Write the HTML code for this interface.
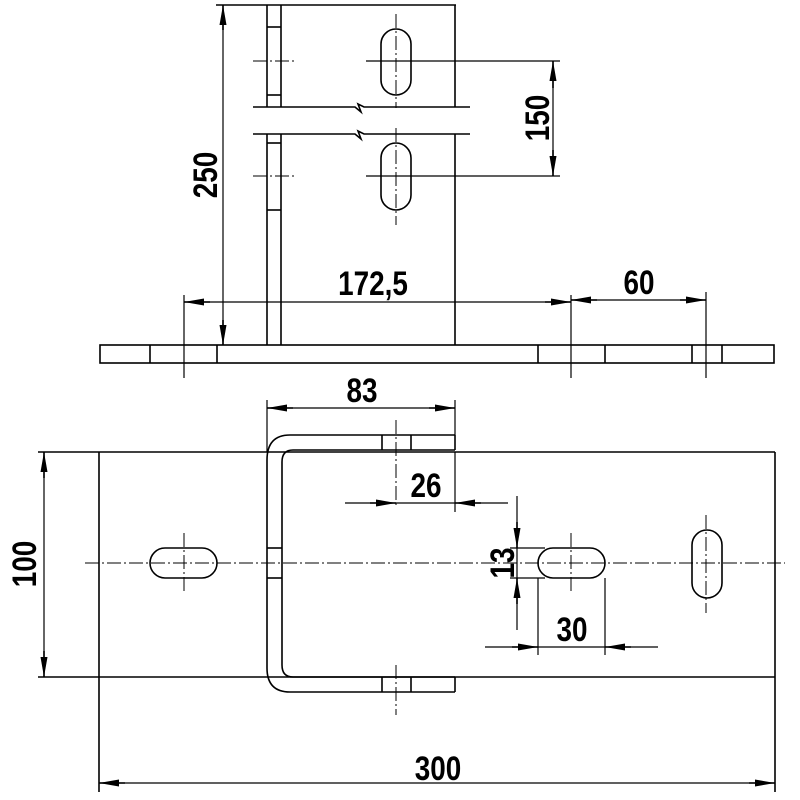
<!DOCTYPE html>
<html><head><meta charset="utf-8"><style>
html,body{margin:0;padding:0;background:#fff;}
svg{display:block}
text{font-family:"Liberation Sans","DejaVu Sans",sans-serif;font-weight:bold;font-size:34px;fill:#000}
</style></head><body>
<svg width="800" height="800" viewBox="0 0 800 800" xmlns="http://www.w3.org/2000/svg">
<defs>
<marker id="a" viewBox="0 0 20 8" refX="20" refY="4" markerWidth="20" markerHeight="8" markerUnits="userSpaceOnUse" orient="auto"><path d="M0,0.5 L20,4 L0,7.5 Z" fill="#000"/></marker>
</defs>
<g stroke="#000" stroke-width="1.6" fill="none">
<line x1="216" y1="5" x2="456" y2="5"/>
<line x1="267" y1="5" x2="267" y2="107"/><line x1="281" y1="5" x2="281" y2="107"/>
<line x1="267" y1="134" x2="267" y2="345"/><line x1="281" y1="134" x2="281" y2="345"/>
<line x1="455" y1="5" x2="455" y2="107"/><line x1="455" y1="134" x2="455" y2="345"/>
<line x1="267" y1="27" x2="281" y2="27"/><line x1="267" y1="95" x2="281" y2="95"/>
<line x1="267" y1="143" x2="281" y2="143"/><line x1="267" y1="210" x2="281" y2="210"/>
<path d="M253,107 L355,107 L361,112 L358,104 L364,107 L470,107"/>
<path d="M253,134 L355,134 L361,139 L358,131 L364,134 L470,134"/>
<rect x="381" y="29" width="30" height="66" rx="15"/>
<rect x="381" y="143" width="30" height="67" rx="15"/>
<line x1="366" y1="61" x2="560" y2="61" stroke-width="1.2"/>
<line x1="366" y1="176" x2="560" y2="176" stroke-width="1.2"/>
<line x1="553" y1="88" x2="553" y2="61" marker-end="url(#a)"/>
<line x1="553" y1="150" x2="553" y2="176" marker-end="url(#a)"/>
<line x1="553" y1="61" x2="553" y2="176" stroke-width="1.2"/>
<line x1="223" y1="5" x2="223" y2="345" stroke-width="1.2"/>
<line x1="223" y1="30" x2="223" y2="5" marker-end="url(#a)"/>
<line x1="223" y1="320" x2="223" y2="345" marker-end="url(#a)"/>
<rect x="100" y="345" width="674" height="18"/>
<line x1="150" y1="345" x2="150" y2="363"/><line x1="217" y1="345" x2="217" y2="363"/>
<line x1="538" y1="345" x2="538" y2="363"/><line x1="605" y1="345" x2="605" y2="363"/>
<line x1="692" y1="345" x2="692" y2="363"/><line x1="722" y1="345" x2="722" y2="363"/>
<line x1="184" y1="295" x2="184" y2="378" stroke-width="1.2"/>
<line x1="571" y1="295" x2="571" y2="378" stroke-width="1.2"/>
<line x1="706" y1="292" x2="706" y2="378" stroke-width="1.2"/>
<line x1="184" y1="302" x2="571" y2="302" stroke-width="1.2"/>
<line x1="210" y1="302" x2="184" y2="302" marker-end="url(#a)"/>
<line x1="545" y1="302" x2="571" y2="302" marker-end="url(#a)"/>
<line x1="571" y1="300" x2="706" y2="300" stroke-width="1.2"/>
<line x1="597" y1="300" x2="571" y2="300" marker-end="url(#a)"/>
<line x1="680" y1="300" x2="706" y2="300" marker-end="url(#a)"/>
</g>
<g stroke="#000" stroke-width="1" stroke-dasharray="14,3,2,3" fill="none">
<line x1="253" y1="61" x2="297" y2="61"/><line x1="253" y1="176" x2="297" y2="176"/>
<line x1="396" y1="14" x2="396" y2="108"/><line x1="396" y1="128" x2="396" y2="225"/>
<line x1="85" y1="563" x2="785" y2="563"/>
<line x1="184" y1="533" x2="184" y2="593"/>
<line x1="571" y1="533" x2="571" y2="593"/>
<line x1="706" y1="515" x2="706" y2="613"/>
<line x1="396" y1="420" x2="396" y2="505"/>
<line x1="396" y1="665" x2="396" y2="715"/>
</g>
<g stroke="#000" stroke-width="1.6" fill="none">
<line x1="38" y1="452" x2="775" y2="452"/>
<line x1="38" y1="677" x2="775" y2="677"/>
<line x1="99" y1="452" x2="99" y2="792"/>
<line x1="775" y1="452" x2="775" y2="792"/>
<path d="M455,435 L290,435 Q267,435 267,460 L267,668 Q267,692 290,692 L455,692"/>
<path d="M455,450 L293,450 Q282,450 282,462 L282,665 Q282,677 293,677 L455,677"/>
<line x1="455" y1="435" x2="455" y2="450"/><line x1="455" y1="677" x2="455" y2="692"/>
<line x1="382" y1="435" x2="382" y2="450"/><line x1="411" y1="435" x2="411" y2="450"/>
<line x1="382" y1="677" x2="382" y2="692"/><line x1="411" y1="677" x2="411" y2="692"/>
<line x1="267" y1="548" x2="282" y2="548"/><line x1="267" y1="578" x2="282" y2="578"/>
<rect x="150" y="548" width="67" height="30" rx="15"/>
<rect x="538" y="548" width="67" height="30" rx="15"/>
<rect x="692" y="530" width="30" height="68" rx="15"/>
<line x1="267" y1="400" x2="267" y2="452" stroke-width="1.2"/>
<line x1="455" y1="400" x2="455" y2="435" stroke-width="1.2"/>
<line x1="267" y1="408" x2="455" y2="408" stroke-width="1.2"/>
<line x1="293" y1="408" x2="267" y2="408" marker-end="url(#a)"/>
<line x1="429" y1="408" x2="455" y2="408" marker-end="url(#a)"/>
<line x1="455" y1="452" x2="455" y2="512" stroke-width="1.2"/>
<line x1="345" y1="503" x2="508" y2="503" stroke-width="1.2"/>
<line x1="370" y1="503" x2="396" y2="503" marker-end="url(#a)"/>
<line x1="481" y1="503" x2="455" y2="503" marker-end="url(#a)"/>
<line x1="517" y1="496" x2="517" y2="630" stroke-width="1.2"/>
<line x1="510" y1="548" x2="545" y2="548" stroke-width="1.2"/>
<line x1="510" y1="578" x2="545" y2="578" stroke-width="1.2"/>
<line x1="517" y1="522" x2="517" y2="548" marker-end="url(#a)"/>
<line x1="517" y1="604" x2="517" y2="578" marker-end="url(#a)"/>
<line x1="538" y1="578" x2="538" y2="655" stroke-width="1.2"/>
<line x1="605" y1="578" x2="605" y2="655" stroke-width="1.2"/>
<line x1="485" y1="647" x2="658" y2="647" stroke-width="1.2"/>
<line x1="512" y1="647" x2="538" y2="647" marker-end="url(#a)"/>
<line x1="631" y1="647" x2="605" y2="647" marker-end="url(#a)"/>
<line x1="44" y1="452" x2="44" y2="677" stroke-width="1.2"/>
<line x1="44" y1="478" x2="44" y2="452" marker-end="url(#a)"/>
<line x1="44" y1="651" x2="44" y2="677" marker-end="url(#a)"/>
<line x1="99" y1="783" x2="775" y2="783" stroke-width="1.2"/>
<line x1="125" y1="783" x2="99" y2="783" marker-end="url(#a)"/>
<line x1="749" y1="783" x2="775" y2="783" marker-end="url(#a)"/>
</g>
<text transform="translate(373,295) scale(0.82,1)" text-anchor="middle">172,5</text>
<text transform="translate(639,294) scale(0.82,1)" text-anchor="middle">60</text>
<text transform="translate(549,118) rotate(-90) scale(0.82,1)" text-anchor="middle">150</text>
<text transform="translate(217,175) rotate(-90) scale(0.82,1)" text-anchor="middle">250</text>
<text transform="translate(362,402) scale(0.82,1)" text-anchor="middle">83</text>
<text transform="translate(426,497) scale(0.82,1)" text-anchor="middle">26</text>
<text transform="translate(514,563) rotate(-90) scale(0.82,1)" text-anchor="middle">13</text>
<text transform="translate(572,641) scale(0.82,1)" text-anchor="middle">30</text>
<text transform="translate(36,564) rotate(-90) scale(0.82,1)" text-anchor="middle">100</text>
<text transform="translate(438,780) scale(0.82,1)" text-anchor="middle">300</text>
</svg>
</body></html>
